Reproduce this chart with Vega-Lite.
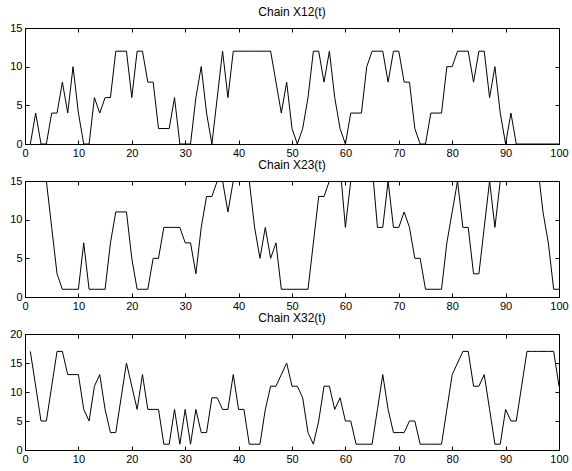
{
  "$schema": "https://vega.github.io/schema/vega-lite/v6.json",
  "background": "white",
  "padding": {"left": 9, "top": 5, "right": 10, "bottom": 5},
  "spacing": 37,
  "bounds": "flush",
  "datasets": {
    "x12": [
      {"t":1,"v":0},{"t":2,"v":4},{"t":3,"v":0},{"t":4,"v":0},{"t":5,"v":4},{"t":6,"v":4},{"t":7,"v":8},{"t":8,"v":4},{"t":9,"v":10},{"t":10,"v":4},
      {"t":11,"v":0},{"t":12,"v":0},{"t":13,"v":6},{"t":14,"v":4},{"t":15,"v":6},{"t":16,"v":6},{"t":17,"v":12},{"t":18,"v":12},{"t":19,"v":12},{"t":20,"v":6},
      {"t":21,"v":12},{"t":22,"v":12},{"t":23,"v":8},{"t":24,"v":8},{"t":25,"v":2},{"t":26,"v":2},{"t":27,"v":2},{"t":28,"v":6},{"t":29,"v":0},{"t":30,"v":0},
      {"t":31,"v":0},{"t":32,"v":6},{"t":33,"v":10},{"t":34,"v":4},{"t":35,"v":0},{"t":36,"v":6},{"t":37,"v":12},{"t":38,"v":6},{"t":39,"v":12},{"t":40,"v":12},
      {"t":41,"v":12},{"t":42,"v":12},{"t":43,"v":12},{"t":44,"v":12},{"t":45,"v":12},{"t":46,"v":12},{"t":47,"v":8},{"t":48,"v":4},{"t":49,"v":8},{"t":50,"v":2},
      {"t":51,"v":0},{"t":52,"v":2},{"t":53,"v":6},{"t":54,"v":12},{"t":55,"v":12},{"t":56,"v":8},{"t":57,"v":12},{"t":58,"v":6},{"t":59,"v":2},{"t":60,"v":0},
      {"t":61,"v":4},{"t":62,"v":4},{"t":63,"v":4},{"t":64,"v":10},{"t":65,"v":12},{"t":66,"v":12},{"t":67,"v":12},{"t":68,"v":8},{"t":69,"v":12},{"t":70,"v":12},
      {"t":71,"v":8},{"t":72,"v":8},{"t":73,"v":2},{"t":74,"v":0},{"t":75,"v":0},{"t":76,"v":4},{"t":77,"v":4},{"t":78,"v":4},{"t":79,"v":10},{"t":80,"v":10},
      {"t":81,"v":12},{"t":82,"v":12},{"t":83,"v":12},{"t":84,"v":8},{"t":85,"v":12},{"t":86,"v":12},{"t":87,"v":6},{"t":88,"v":10},{"t":89,"v":4},{"t":90,"v":0},
      {"t":91,"v":4},{"t":92,"v":0},{"t":93,"v":0},{"t":94,"v":0},{"t":95,"v":0},{"t":96,"v":0},{"t":97,"v":0},{"t":98,"v":0},{"t":99,"v":0},{"t":100,"v":0}
    ],
    "x23": [
      {"t":1,"v":17},{"t":2,"v":17},{"t":3,"v":17},{"t":4,"v":15},{"t":5,"v":9},{"t":6,"v":3},{"t":7,"v":1},{"t":8,"v":1},{"t":9,"v":1},{"t":10,"v":1},
      {"t":11,"v":7},{"t":12,"v":1},{"t":13,"v":1},{"t":14,"v":1},{"t":15,"v":1},{"t":16,"v":7},{"t":17,"v":11},{"t":18,"v":11},{"t":19,"v":11},{"t":20,"v":5},
      {"t":21,"v":1},{"t":22,"v":1},{"t":23,"v":1},{"t":24,"v":5},{"t":25,"v":5},{"t":26,"v":9},{"t":27,"v":9},{"t":28,"v":9},{"t":29,"v":9},{"t":30,"v":7},
      {"t":31,"v":7},{"t":32,"v":3},{"t":33,"v":9},{"t":34,"v":13},{"t":35,"v":13},{"t":36,"v":15},{"t":37,"v":15},{"t":38,"v":11},{"t":39,"v":15},{"t":40,"v":17},
      {"t":41,"v":17},{"t":42,"v":15},{"t":43,"v":9},{"t":44,"v":5},{"t":45,"v":9},{"t":46,"v":5},{"t":47,"v":7},{"t":48,"v":1},{"t":49,"v":1},{"t":50,"v":1},
      {"t":51,"v":1},{"t":52,"v":1},{"t":53,"v":1},{"t":54,"v":7},{"t":55,"v":13},{"t":56,"v":13},{"t":57,"v":15},{"t":58,"v":17},{"t":59,"v":17},{"t":60,"v":9},
      {"t":61,"v":15},{"t":62,"v":17},{"t":63,"v":17},{"t":64,"v":17},{"t":65,"v":17},{"t":66,"v":9},{"t":67,"v":9},{"t":68,"v":15},{"t":69,"v":9},{"t":70,"v":9},
      {"t":71,"v":11},{"t":72,"v":9},{"t":73,"v":5},{"t":74,"v":5},{"t":75,"v":1},{"t":76,"v":1},{"t":77,"v":1},{"t":78,"v":1},{"t":79,"v":7},{"t":80,"v":11},
      {"t":81,"v":15},{"t":82,"v":9},{"t":83,"v":9},{"t":84,"v":3},{"t":85,"v":3},{"t":86,"v":9},{"t":87,"v":15},{"t":88,"v":9},{"t":89,"v":15},{"t":90,"v":17},
      {"t":91,"v":17},{"t":92,"v":17},{"t":93,"v":17},{"t":94,"v":17},{"t":95,"v":17},{"t":96,"v":17},{"t":97,"v":11},{"t":98,"v":7},{"t":99,"v":1},{"t":100,"v":1}
    ],
    "x32": [
      {"t":1,"v":17},{"t":2,"v":11},{"t":3,"v":5},{"t":4,"v":5},{"t":5,"v":11},{"t":6,"v":17},{"t":7,"v":17},{"t":8,"v":13},{"t":9,"v":13},{"t":10,"v":13},
      {"t":11,"v":7},{"t":12,"v":5},{"t":13,"v":11},{"t":14,"v":13},{"t":15,"v":7},{"t":16,"v":3},{"t":17,"v":3},{"t":18,"v":9},{"t":19,"v":15},{"t":20,"v":11},
      {"t":21,"v":7},{"t":22,"v":13},{"t":23,"v":7},{"t":24,"v":7},{"t":25,"v":7},{"t":26,"v":1},{"t":27,"v":1},{"t":28,"v":7},{"t":29,"v":1},{"t":30,"v":7},
      {"t":31,"v":1},{"t":32,"v":7},{"t":33,"v":3},{"t":34,"v":3},{"t":35,"v":9},{"t":36,"v":9},{"t":37,"v":7},{"t":38,"v":7},{"t":39,"v":13},{"t":40,"v":7},
      {"t":41,"v":7},{"t":42,"v":1},{"t":43,"v":1},{"t":44,"v":1},{"t":45,"v":7},{"t":46,"v":11},{"t":47,"v":11},{"t":48,"v":13},{"t":49,"v":15},{"t":50,"v":11},
      {"t":51,"v":11},{"t":52,"v":9},{"t":53,"v":3},{"t":54,"v":1},{"t":55,"v":5},{"t":56,"v":11},{"t":57,"v":11},{"t":58,"v":7},{"t":59,"v":9},{"t":60,"v":5},
      {"t":61,"v":5},{"t":62,"v":1},{"t":63,"v":1},{"t":64,"v":1},{"t":65,"v":1},{"t":66,"v":7},{"t":67,"v":13},{"t":68,"v":7},{"t":69,"v":3},{"t":70,"v":3},
      {"t":71,"v":3},{"t":72,"v":5},{"t":73,"v":5},{"t":74,"v":1},{"t":75,"v":1},{"t":76,"v":1},{"t":77,"v":1},{"t":78,"v":1},{"t":79,"v":7},{"t":80,"v":13},
      {"t":81,"v":15},{"t":82,"v":17},{"t":83,"v":17},{"t":84,"v":11},{"t":85,"v":11},{"t":86,"v":13},{"t":87,"v":7},{"t":88,"v":1},{"t":89,"v":1},{"t":90,"v":7},
      {"t":91,"v":5},{"t":92,"v":5},{"t":93,"v":11},{"t":94,"v":17},{"t":95,"v":17},{"t":96,"v":17},{"t":97,"v":17},{"t":98,"v":17},{"t":99,"v":17},{"t":100,"v":11}
    ]
  },
  "vconcat": [
    {
      "data": {"name": "x12"},
      "width": 534, "height": 116,
      "title": "Chain X12(t)",
      "layer": [
        {"mark": {"type": "line", "clip": true},
         "encoding": {
           "x": {"field": "t", "type": "quantitative", "scale": {"domain": [0, 100], "nice": false}, "axis": {"orient": "bottom", "values": [0,10,20,30,40,50,60,70,80,90,100], "title": null}},
           "y": {"field": "v", "type": "quantitative", "scale": {"domain": [0, 15], "nice": false}, "axis": {"orient": "left", "values": [0,5,10,15], "title": null}}
         }},
        {"mark": {"type": "line", "opacity": 0},
         "encoding": {
           "x": {"field": "t", "type": "quantitative", "axis": {"orient": "top", "values": [0,10,20,30,40,50,60,70,80,90,100], "labels": false, "title": null}},
           "y": {"field": "v", "type": "quantitative", "axis": {"orient": "right", "values": [0,5,10,15], "labels": false, "title": null}}
         }}
      ],
      "resolve": {"axis": {"x": "independent", "y": "independent"}}
    },
    {
      "data": {"name": "x23"},
      "width": 534, "height": 116,
      "title": "Chain X23(t)",
      "layer": [
        {"mark": {"type": "line", "clip": true},
         "encoding": {
           "x": {"field": "t", "type": "quantitative", "scale": {"domain": [0, 100], "nice": false}, "axis": {"orient": "bottom", "values": [0,10,20,30,40,50,60,70,80,90,100], "title": null}},
           "y": {"field": "v", "type": "quantitative", "scale": {"domain": [0, 15], "nice": false}, "axis": {"orient": "left", "values": [0,5,10,15], "title": null}}
         }},
        {"mark": {"type": "line", "opacity": 0, "clip": true},
         "encoding": {
           "x": {"field": "t", "type": "quantitative", "axis": {"orient": "top", "values": [0,10,20,30,40,50,60,70,80,90,100], "labels": false, "title": null}},
           "y": {"field": "v", "type": "quantitative", "axis": {"orient": "right", "values": [0,5,10,15], "labels": false, "title": null}}
         }}
      ],
      "resolve": {"axis": {"x": "independent", "y": "independent"}}
    },
    {
      "data": {"name": "x32"},
      "width": 534, "height": 116,
      "title": "Chain X32(t)",
      "layer": [
        {"mark": {"type": "line", "clip": true},
         "encoding": {
           "x": {"field": "t", "type": "quantitative", "scale": {"domain": [0, 100], "nice": false}, "axis": {"orient": "bottom", "values": [0,10,20,30,40,50,60,70,80,90,100], "title": null}},
           "y": {"field": "v", "type": "quantitative", "scale": {"domain": [0, 20], "nice": false}, "axis": {"orient": "left", "values": [0,5,10,15,20], "title": null}}
         }},
        {"mark": {"type": "line", "opacity": 0},
         "encoding": {
           "x": {"field": "t", "type": "quantitative", "axis": {"orient": "top", "values": [0,10,20,30,40,50,60,70,80,90,100], "labels": false, "title": null}},
           "y": {"field": "v", "type": "quantitative", "axis": {"orient": "right", "values": [0,5,10,15,20], "labels": false, "title": null}}
         }}
      ],
      "resolve": {"axis": {"x": "independent", "y": "independent"}}
    }
  ],
  "config": {
    "view": {"stroke": "black", "strokeWidth": 1},
    "axis": {"grid": false, "domainColor": "black", "domainWidth": 1, "tickColor": "black", "tickWidth": 1, "tickSize": -4, "labelPadding": 7, "labelColor": "black", "labelFont": "Liberation Sans", "labelFontSize": 11, "labelFlush": false, "labelOverlap": false},
    "title": {"font": "Liberation Sans", "fontSize": 12, "fontWeight": "normal", "color": "black", "offset": 3},
    "line": {"color": "black", "strokeWidth": 1}
  }
}
